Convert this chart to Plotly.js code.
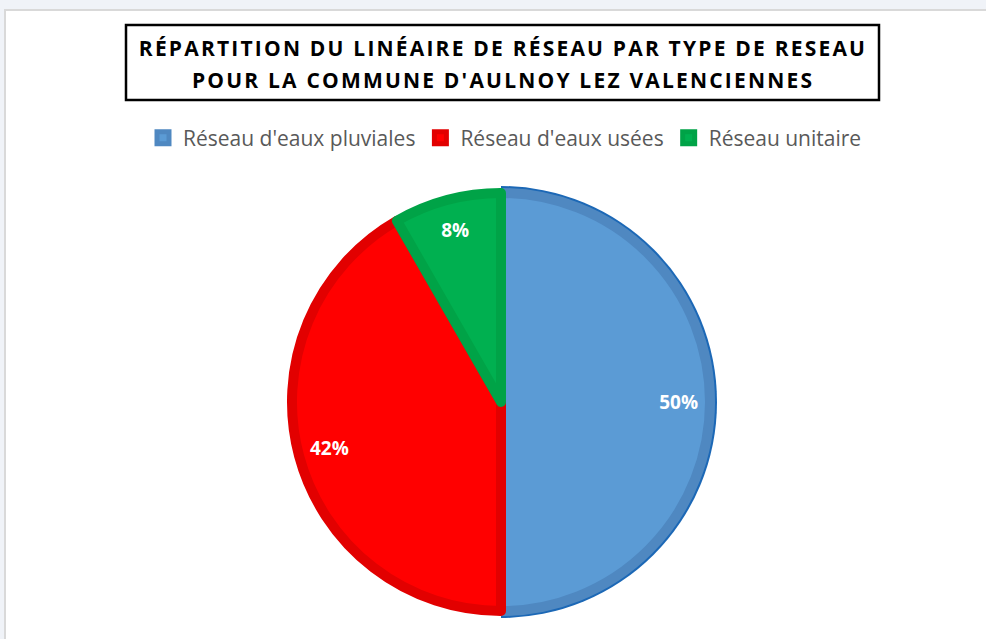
<!DOCTYPE html>
<html>
<head>
<meta charset="utf-8">
<script src="https://cdn.plot.ly/plotly-3.0.1.min.js"></script>
<style>
html,body{margin:0;padding:0;background:#fff;}
#chart{width:986px;height:639px;}
#chart .annotation-text{letter-spacing:2.2px;}
</style>
</head>
<body>
<div id="chart"></div>
<script>
// ---- data ----
const labels = ["Réseau d'eaux pluviales", "Réseau d'eaux usées", "Réseau unitaire"];
const values = [50, 41.7, 8.3];
const titleLines = ["RÉPARTITION DU LINÉAIRE DE RÉSEAU PAR TYPE DE RESEAU", "POUR LA COMMUNE D'AULNOY LEZ VALENCIENNES"];

// ---- styles ----
const fillColors = ['#5B9BD5', '#FF0000', '#00B050'];
const bandColors = ['#4F88C1', '#E20000', '#00A347'];
const W = 986, H = 639;
const cx = 501, cy = 402;

function dom(R) {
  return { x: [(cx - R) / W, (cx + R) / W], y: [(H - cy - R) / H, (H - cy + R) / H] };
}

const common = { type: 'pie', labels: labels, values: values, sort: false, direction: 'clockwise', rotation: 0 };

const underlay = Object.assign({}, common, {
  domain: dom(216),
  marker: { colors: ['#1C68B6', 'rgba(0,0,0,0)', 'rgba(0,0,0,0)'], line: { width: 0 } },
  textinfo: 'none', hoverinfo: 'skip', showlegend: false
});

const main = Object.assign({}, common, {
  domain: dom(209),
  marker: { colors: fillColors, line: { color: bandColors, width: 10 } },
  textinfo: 'none', hoverinfo: 'label+percent', showlegend: true
});

const textRing = Object.assign({}, common, {
  domain: dom(214),
  hole: 0.66,
  marker: { colors: ['rgba(0,0,0,0)', 'rgba(0,0,0,0)', 'rgba(0,0,0,0)'], line: { width: 0 } },
  texttemplate: '%{percent:.0%}',
  textposition: 'inside',
  insidetextorientation: 'horizontal',
  textfont: { family: 'Open Sans', size: 19, color: '#FFFFFF', weight: 'bold' },
  hoverinfo: 'skip', showlegend: false
});

const layout = {
  width: W, height: H,
  margin: { l: 0, r: 0, t: 0, b: 0 },
  paper_bgcolor: '#F0F3F8',
  showlegend: true,
  legend: {
    orientation: 'h', x: 505 / W, xanchor: 'center', y: 1 - 138 / H, yanchor: 'middle',
    font: { family: 'Open Sans', size: 21, color: '#595959' },
    bgcolor: 'rgba(0,0,0,0)', traceorder: 'normal'
  },
  shapes: [
    { type: 'rect', xref: 'paper', yref: 'paper', layer: 'below',
      x0: 5 / W, x1: 1.02, y0: -0.02, y1: 1 - 10 / H,
      fillcolor: '#FFFFFF', line: { color: '#D9D9D9', width: 2 } },
    { type: 'rect', xref: 'paper', yref: 'paper', layer: 'below',
      x0: 126 / W, x1: 879 / W, y0: 1 - 100 / H, y1: 1 - 25 / H,
      fillcolor: 'rgba(0,0,0,0)', line: { color: '#000000', width: 2.5 } }
  ],
  annotations: [
    { xref: 'paper', yref: 'paper', x: 503 / W, y: 1 - 48 / H, xanchor: 'center', yanchor: 'middle',
      text: titleLines[0], showarrow: false,
      font: { family: 'Open Sans', size: 21, color: '#000000', weight: 'bold' } },
    { xref: 'paper', yref: 'paper', x: 503 / W, y: 1 - 80 / H, xanchor: 'center', yanchor: 'middle',
      text: titleLines[1], showarrow: false,
      font: { family: 'Open Sans', size: 21, color: '#000000', weight: 'bold' } }
  ]
};

Plotly.newPlot('chart', [underlay, main, textRing], layout, { displayModeBar: false, staticPlot: true });
</script>
</body>
</html>
